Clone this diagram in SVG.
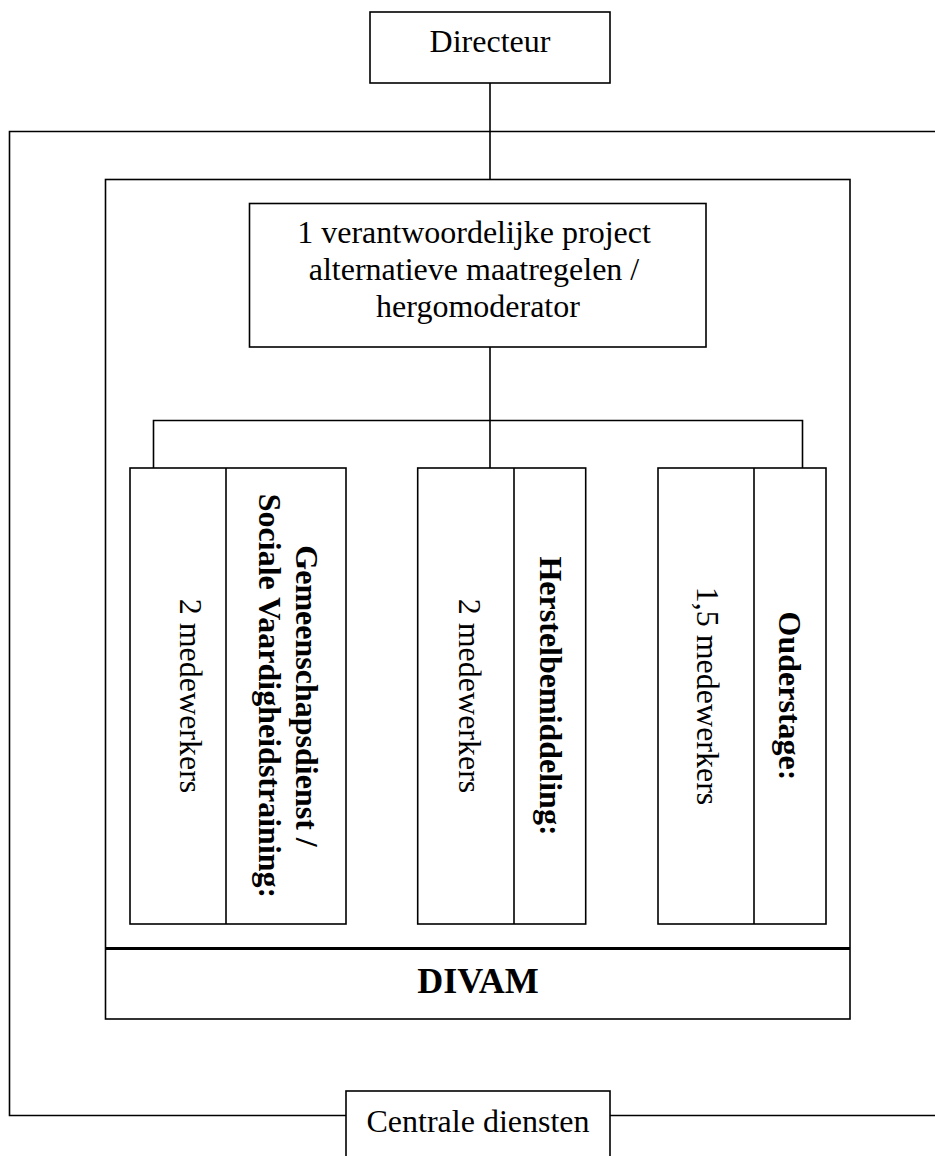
<svg xmlns="http://www.w3.org/2000/svg" width="935" height="1156" viewBox="0 0 935 1156">
<style>
.box{fill:#fff;stroke:#000;stroke-width:1.6}
.ln{fill:none;stroke:#000;stroke-width:1.6}
.t{font-family:"Liberation Serif","Times New Roman",serif;font-size:32px;fill:#000}
.b{font-weight:bold}
</style>
<rect width="935" height="1156" fill="#fff"/>
<g id="frame">
  <path class="ln" d="M935,131.5 H9.5 V1115.5 H346"/>
  <path class="ln" d="M610,1115.5 H935"/>
</g>
<g id="directeur">
  <rect class="box" x="370" y="12" width="240" height="71"/>
  <text class="t" x="490" y="52" text-anchor="middle">Directeur</text>
</g>
<g id="divam">
  <rect class="box" x="105.5" y="179.5" width="744.5" height="839.5"/>
  <line x1="105.5" y1="948.5" x2="850" y2="948.5" stroke="#000" stroke-width="3"/>
  <text class="t b" x="478" y="993" text-anchor="middle" style="font-size:36px">DIVAM</text>
</g>
<g id="project">
  <rect class="box" x="249.5" y="203.5" width="456.5" height="143.5"/>
  <text class="t" text-anchor="middle">
    <tspan x="478" y="243">1 verantwoordelijke project</tspan>
    <tspan x="478" y="280">alternatieve maatregelen /</tspan>
    <tspan x="478" y="317">hergomoderator</tspan>
  </text>
</g>
<g id="col-gemeenschapsdienst">
  <rect class="box" x="130" y="468" width="216" height="456"/>
  <line class="ln" x1="226" y1="468" x2="226" y2="924"/>
  <text class="t" text-anchor="middle" transform="translate(180,696) rotate(90)">2 medewerkers</text>
  <text class="t b" text-anchor="middle" transform="translate(296,696) rotate(90)"><tspan x="0" y="0">Gemeenschapsdienst /</tspan><tspan x="0" y="37">Sociale Vaardigheidstraining:</tspan></text>
</g>
<g id="col-herstelbemiddeling">
  <rect class="box" x="417.7" y="468" width="168" height="456"/>
  <line class="ln" x1="514" y1="468" x2="514" y2="924"/>
  <text class="t" text-anchor="middle" transform="translate(459,696) rotate(90)">2 medewerkers</text>
  <text class="t b" text-anchor="middle" transform="translate(540,696) rotate(90)">Herstelbemiddeling:</text>
</g>
<g id="col-ouderstage">
  <rect class="box" x="658" y="468" width="168" height="456"/>
  <line class="ln" x1="754" y1="468" x2="754" y2="924"/>
  <text class="t" text-anchor="middle" transform="translate(697,696) rotate(90)">1,5 medewerkers</text>
  <text class="t b" text-anchor="middle" transform="translate(779,696) rotate(90)">Ouderstage:</text>
</g>
<g id="centrale">
  <rect class="box" x="346" y="1091" width="264" height="80"/>
  <text class="t" x="478" y="1132" text-anchor="middle">Centrale diensten</text>
</g>
<g id="connectors">
  <path class="ln" d="M490,83 V179.5"/>
  <path class="ln" d="M490,347 V468"/>
  <path class="ln" d="M153.5,468 V420.5 H802.5 V468"/>
</g>
</svg>
